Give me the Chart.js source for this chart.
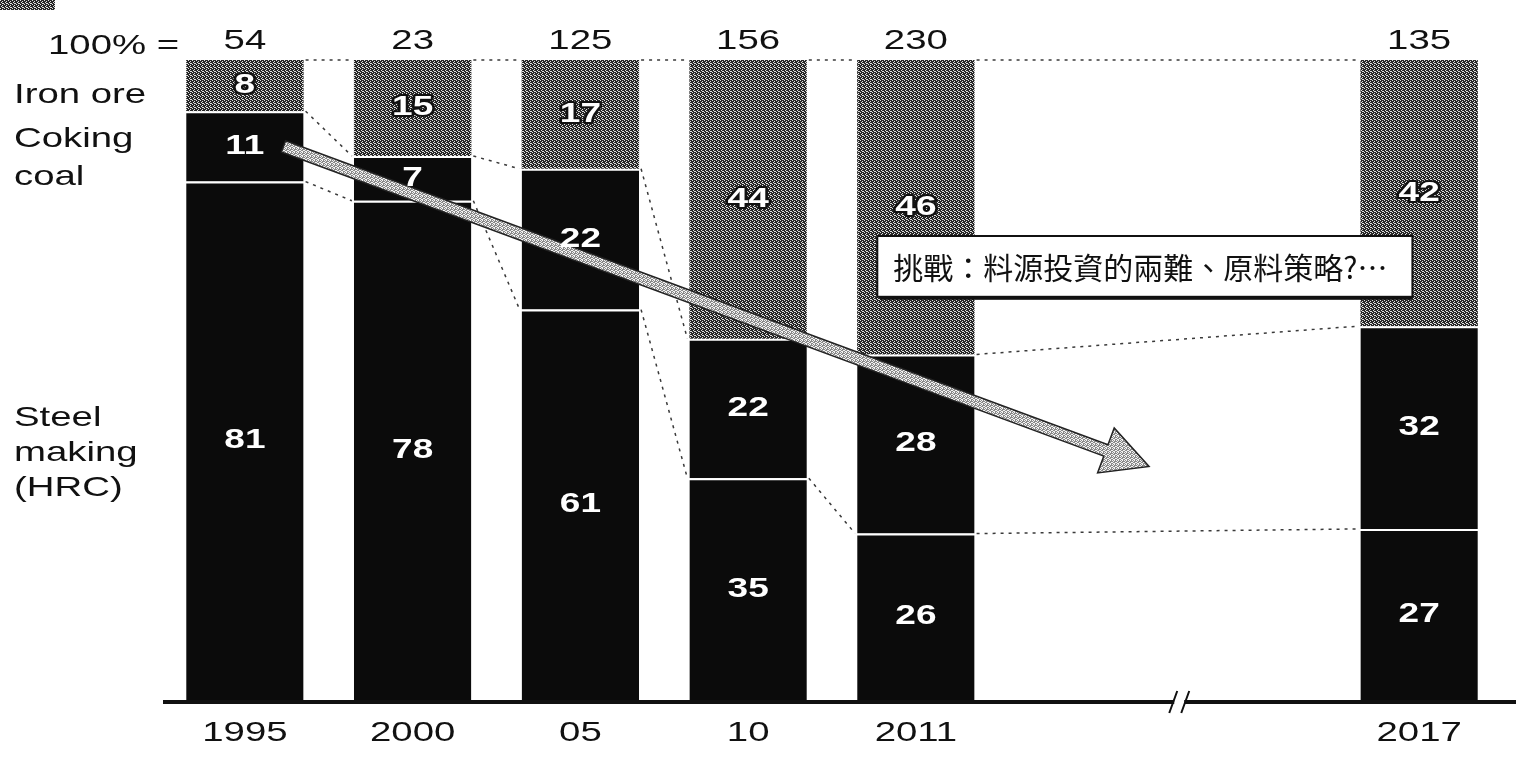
<!DOCTYPE html>
<html>
<head>
<meta charset="utf-8">
<script src="https://cdn.jsdelivr.net/npm/chart.js@4"></script>
<style>
body { margin: 0; background: #fff; }
#wrap { width: 1516px; height: 759px; }
</style>
</head>
<body>
<div id="wrap"><canvas id="chart" width="1516" height="759"></canvas></div>
<script>
// Chart data (two empty slots stand for the 2011 -> 2017 gap)
const categories = ['1995', '2000', '05', '10', '2011', '', '', '2017'];
const totals = [54, 23, 125, 156, 230, null, null, 135];
const steelMaking = [81, 78, 61, 35, 26, null, null, 27];
const cokingCoal = [11, 7, 22, 22, 28, null, null, 32];
const ironOre = [8, 15, 17, 44, 46, null, null, 42];
const seriesNames = ['Steel making (HRC)', 'Coking coal', 'Iron ore'];
const calloutText = '挑戰：料源投資的兩難、原料策略?…';

const BASE_FONT = '"Liberation Sans", Arial, sans-serif';
const STRETCH = 1.37; // the scanned original is wider than it is tall

// bars are drawn as share of the column sum, labels keep the printed numbers
function shareOf(series) {
    return series.map((v, i) => {
        if (v === null) return null;
        const sum = steelMaking[i] + cokingCoal[i] + ironOre[i];
        return v / sum * 100;
    });
}

const canvas = document.getElementById('chart');
const ctx = canvas.getContext('2d');

function makeHatch(base, light, dots) {
    const c = document.createElement('canvas');
    c.width = 4;
    c.height = 4;
    const g = c.getContext('2d');
    g.fillStyle = base;
    g.fillRect(0, 0, 4, 4);
    g.fillStyle = light;
    dots.forEach(p => g.fillRect(p[0], p[1], 1, 1));
    return ctx.createPattern(c, 'repeat');
}

const ironHatch = makeHatch('#262626', '#dedede', [[0, 0], [2, 1], [1, 2], [3, 3], [2, 3]]);
const arrowHatch = makeHatch('#8a8a8a', '#f2f2f2', [[0, 0], [2, 0], [1, 1], [3, 2], [0, 2], [2, 3], [1, 3]]);

function stretchText(c, text, x, y, font, align, color, stroke) {
    c.save();
    c.font = font;
    c.textAlign = align;
    c.textBaseline = 'middle';
    c.translate(x, y);
    c.scale(STRETCH, 1);
    if (stroke) {
        c.lineWidth = 4;
        c.lineJoin = 'round';
        c.strokeStyle = stroke;
        c.strokeText(text, 0, 0);
    }
    c.fillStyle = color;
    c.fillText(text, 0, 0);
    c.restore();
}

// dashed lines joining the segment borders of neighbouring columns
const connectorPlugin = {
    id: 'connectors',
    afterDatasetsDraw(chart) {
        const c = chart.ctx;
        const present = categories.map((cat, i) => i).filter(i => totals[i] !== null);
        c.save();
        c.strokeStyle = '#3a3a3a';
        c.lineWidth = 1.5;
        c.setLineDash([3, 5]);
        for (let k = 0; k < present.length - 1; k++) {
            const a = present[k];
            const b = present[k + 1];
            chart.data.datasets.forEach((ds, d) => {
                const ea = chart.getDatasetMeta(d).data[a];
                const eb = chart.getDatasetMeta(d).data[b];
                c.beginPath();
                c.moveTo(ea.x + ea.width / 2 + 2, ea.y);
                c.lineTo(eb.x - eb.width / 2 - 2, eb.y);
                c.stroke();
            });
        }
        c.restore();
    }
};

// big trend arrow, callout box and value labels
const overlayPlugin = {
    id: 'overlay',
    afterDatasetsDraw(chart) {
        const c = chart.ctx;
        const xs = chart.scales.x;
        const ys = chart.scales.y;

        // arrow
        const from = { x: xs.getPixelForValue(0.23), y: ys.getPixelForValue(86.5) };
        const to = { x: xs.getPixelForValue(5.39), y: ys.getPixelForValue(36.5) };
        const dx = to.x - from.x;
        const dy = to.y - from.y;
        const len = Math.hypot(dx, dy);
        const ux = dx / len, uy = dy / len;
        const nx = -uy, ny = ux;
        const shaft = 6, head = 24, headLen = 46;
        const neck = { x: to.x - ux * headLen, y: to.y - uy * headLen };
        c.save();
        c.beginPath();
        c.moveTo(from.x + nx * shaft, from.y + ny * shaft);
        c.lineTo(neck.x + nx * shaft, neck.y + ny * shaft);
        c.lineTo(neck.x + nx * head, neck.y + ny * head);
        c.lineTo(to.x, to.y);
        c.lineTo(neck.x - nx * head, neck.y - ny * head);
        c.lineTo(neck.x - nx * shaft, neck.y - ny * shaft);
        c.lineTo(from.x - nx * shaft, from.y - ny * shaft);
        c.closePath();
        c.fillStyle = arrowHatch;
        c.fill();
        c.strokeStyle = '#222';
        c.lineWidth = 1.5;
        c.stroke();
        c.restore();

        // value labels
        const seriesValues = [steelMaking, cokingCoal, ironOre];
        chart.data.datasets.forEach((ds, d) => {
            chart.getDatasetMeta(d).data.forEach((el, i) => {
                const v = seriesValues[d][i];
                if (v === null) return;
                const y = (el.y + el.base) / 2;
                stretchText(c, String(v), el.x, y, 'bold 27px ' + BASE_FONT, 'center', '#fff', d === 2 ? '#111' : null);
            });
        });

        // callout box, laid over the 2011 and 2017 columns
        const bx0 = xs.getPixelForValue(3.77);
        const bx1 = xs.getPixelForValue(6.96);
        const by0 = ys.getPixelForValue(72.5);
        const by1 = ys.getPixelForValue(63);
        c.save();
        c.fillStyle = '#fff';
        c.fillRect(bx0, by0, bx1 - bx0, by1 - by0);
        c.strokeStyle = '#111';
        c.lineWidth = 2;
        c.strokeRect(bx0, by0, bx1 - bx0, by1 - by0);
        c.fillStyle = '#111';
        c.fillRect(bx0 + 3, by1, bx1 - bx0 - 3, 3);
        c.font = '30px "Noto Sans CJK TC", sans-serif';
        c.textAlign = 'left';
        c.textBaseline = 'middle';
        c.fillText(calloutText, bx0 + 16, (by0 + by1) / 2 + 1);
        c.restore();

        // base line with axis break
        const area = chart.chartArea;
        const baseY = area.bottom + 2;
        c.save();
        c.strokeStyle = '#111';
        c.lineWidth = 4;
        c.beginPath();
        c.moveTo(163, baseY);
        c.lineTo(chart.width, baseY);
        c.stroke();
        const bx = xs.getPixelForValue(5.57);
        c.fillStyle = '#fff';
        c.fillRect(bx - 5, baseY - 4, 10, 8);
        c.lineWidth = 2;
        c.beginPath();
        c.moveTo(bx - 10, baseY + 11);
        c.lineTo(bx - 2, baseY - 11);
        c.moveTo(bx + 2, baseY + 11);
        c.lineTo(bx + 10, baseY - 11);
        c.stroke();
        c.restore();
    }
};

// totals row, row titles and category labels
const textPlugin = {
    id: 'texts',
    afterDraw(chart) {
        const c = chart.ctx;
        const area = chart.chartArea;
        const font = '28px ' + BASE_FONT;

        stretchText(c, '100% =', 48, area.top - 14, font, 'left', '#111');
        chart.getDatasetMeta(0).data.forEach((el, i) => {
            if (totals[i] === null) return;
            stretchText(c, String(totals[i]), el.x, area.top - 19, font, 'center', '#111');
            stretchText(c, categories[i], el.x, area.bottom + 33, font, 'center', '#111');
        });

        const rows = [
            ['Iron ore', 35],
            ['Coking', 79],
            ['coal', 117],
            ['Steel', 358],
            ['making', 393],
            ['(HRC)', 428]
        ];
        rows.forEach(r => stretchText(c, r[0], 14, area.top + r[1], font, 'left', '#111'));

        // dark scan mark in the corner
        c.save();
        c.fillStyle = ironHatch;
        c.fillRect(0, 0, 55, 10);
        c.restore();
    }
};

new Chart(ctx, {
    type: 'bar',
    data: {
        labels: categories,
        datasets: [{
            label: seriesNames[0],
            data: shareOf(steelMaking),
            backgroundColor: '#0b0b0b',
            borderColor: '#ffffff',
            borderWidth: { top: 2, left: 0, right: 0, bottom: 0 },
            borderSkipped: false
        }, {
            label: seriesNames[1],
            data: shareOf(cokingCoal),
            backgroundColor: '#0b0b0b',
            borderColor: '#ffffff',
            borderWidth: { top: 2, left: 0, right: 0, bottom: 0 },
            borderSkipped: false
        }, {
            label: seriesNames[2],
            data: shareOf(ironOre),
            backgroundColor: ironHatch,
            borderWidth: 0
        }]
    },
    options: {
        responsive: false,
        animation: false,
        layout: {
            padding: { left: 161, right: 13, top: 60, bottom: 59 }
        },
        datasets: {
            bar: {
                barPercentage: 0.7,
                categoryPercentage: 1
            }
        },
        plugins: {
            legend: { display: false },
            tooltip: { enabled: false }
        },
        scales: {
            x: {
                stacked: true,
                display: false
            },
            y: {
                stacked: true,
                display: false,
                min: 0,
                max: 100
            }
        }
    },
    plugins: [connectorPlugin, overlayPlugin, textPlugin]
});
</script>
</body>
</html>
